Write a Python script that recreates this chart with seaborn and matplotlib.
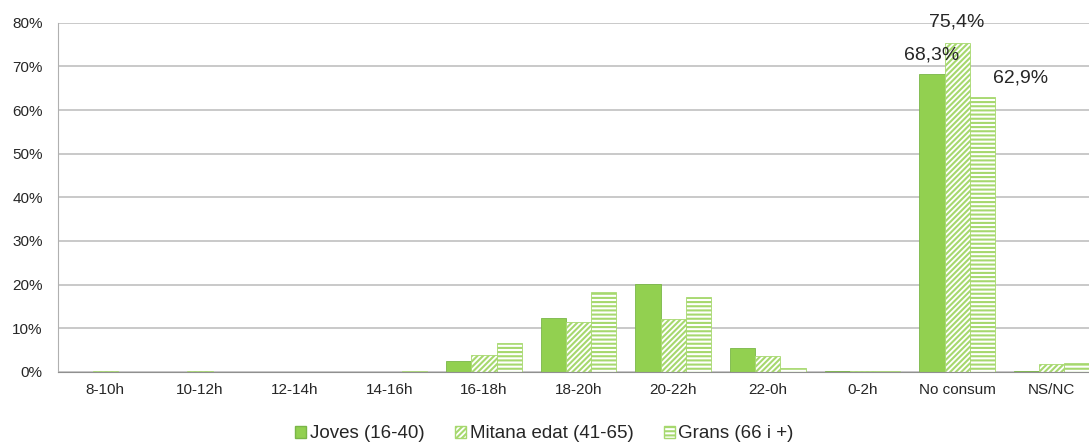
import matplotlib
matplotlib.use("Agg")
import matplotlib.pyplot as plt
import seaborn as sns
import pandas as pd
from matplotlib.patches import Patch

# franges horaries i grups d'edat
franges = ["8-10h", "10-12h", "12-14h", "14-16h", "16-18h", "18-20h",
           "20-22h", "22-0h", "0-2h", "No consum", "NS/NC"]
grups = ["Joves (16-40)", "Mitana edat (41-65)", "Grans (66 i +)"]

joves = [0.0, 0.0, 0.0, 0.0, 2.5, 12.4, 20.2, 5.5, 0.2, 68.3, 0.2]
mitana = [0.2, 0.2, 0.0, 0.0, 3.9, 11.4, 12.1, 3.6, 0.2, 75.4, 1.7]
grans = [0.0, 0.0, 0.0, 0.2, 6.6, 18.4, 17.2, 0.9, 0.1, 62.9, 2.0]

df = pd.DataFrame({
    "franja": franges * 3,
    "grup": [grups[0]] * 11 + [grups[1]] * 11 + [grups[2]] * 11,
    "pct": joves + mitana + grans,
})

sns.set_style("white")
plt.rcParams["font.family"] = ["Liberation Sans", "DejaVu Sans"]
plt.rcParams["hatch.linewidth"] = 1.5

fig = plt.figure(figsize=(10.89, 4.48), dpi=100)
# l'àrea de dibuix surt una mica per la dreta, com a l'original
ax = fig.add_axes([0.0533, 0.170, 0.956, 0.779])

verd = "#92d050"
ax.set_axisbelow(True)
ax.yaxis.grid(True, color="#c0c0c0", linewidth=1.2)

sns.barplot(data=df, x="franja", y="pct", hue="grup", order=franges,
            hue_order=grups, palette=[verd, "white", "white"],
            width=0.8, ax=ax, legend=False)

# estils: sòlid, ratllat diagonal, ratllat horitzontal
hatches = [None, "//////", "----"]
for i, cont in enumerate(ax.containers):
    for bar in cont:
        if i == 0:
            bar.set_facecolor(verd)
            bar.set_edgecolor("#7ab648")
        else:
            bar.set_facecolor("white")
            bar.set_edgecolor("#a6d86e")
            bar.set_hatch(hatches[i])
        bar.set_linewidth(0.6)

# etiquetes de "No consum"
idx = franges.index("No consum")
for i, vals in enumerate([joves, mitana, grans]):
    bar = ax.containers[i][idx]
    x = bar.get_x() + bar.get_width() / 2
    if i == 0:
        ax.text(x, vals[idx] + 3.3, "68,3%", ha="center", fontsize=14)
    elif i == 1:
        ax.text(x, vals[idx] + 3.7, "75,4%", ha="center", fontsize=14)
    else:
        ax.text(x + 0.4, vals[idx] + 3.4, "62,9%", ha="center", fontsize=14)

ax.set_ylim(0, 80)
ax.set_xlim(-0.5, len(franges) - 0.5)
ax.set_yticks(range(0, 81, 10))
ax.set_yticklabels([f"{v}%" for v in range(0, 81, 10)], fontsize=11)
ax.tick_params(axis="x", labelsize=11, length=0, pad=8)
ax.tick_params(axis="y", length=0, pad=11)
ax.set_xlabel("")
ax.set_ylabel("")
for s in ["top", "right"]:
    ax.spines[s].set_visible(False)
ax.spines["left"].set_color("#b0b0b0")
ax.spines["bottom"].set_color("#909090")

handles = [Patch(facecolor=verd, edgecolor="#7ab648"),
           Patch(facecolor="white", edgecolor="#a6d86e", hatch="//////"),
           Patch(facecolor="white", edgecolor="#a6d86e", hatch="----")]
fig.legend(handles, grups, loc="lower center", ncol=3, frameon=False,
           fontsize=13.5, bbox_to_anchor=(0.5, -0.025), handlelength=0.6,
           handleheight=0.6, handletextpad=0.2, columnspacing=1.6)

fig.savefig("out.png", dpi=100)
